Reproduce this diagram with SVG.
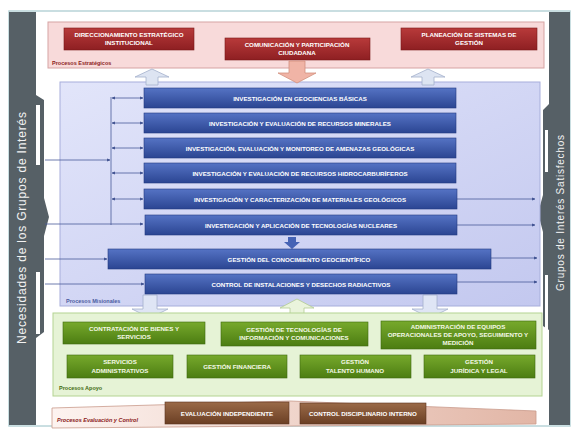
<svg xmlns="http://www.w3.org/2000/svg" width="577" height="432" viewBox="0 0 577 432">
<defs>
<linearGradient id="gRed" x1="0" y1="0" x2="0" y2="1"><stop offset="0" stop-color="#b83a3a"/><stop offset="1" stop-color="#8e1f22"/></linearGradient>
<linearGradient id="gBlue" x1="0" y1="0" x2="0" y2="1"><stop offset="0" stop-color="#5573c4"/><stop offset="1" stop-color="#2b4592"/></linearGradient>
<linearGradient id="gGreen" x1="0" y1="0" x2="0" y2="1"><stop offset="0" stop-color="#77a92c"/><stop offset="1" stop-color="#4c7d12"/></linearGradient>
<linearGradient id="gBrown" x1="0" y1="0" x2="0" y2="1"><stop offset="0" stop-color="#9a6a48"/><stop offset="1" stop-color="#6b3f24"/></linearGradient>
<linearGradient id="gMis" x1="0" y1="0" x2="1" y2="1"><stop offset="0" stop-color="#e2e5fa"/><stop offset="1" stop-color="#c3c8ef"/></linearGradient>
<linearGradient id="gEval" x1="0" y1="0" x2="1" y2="0"><stop offset="0" stop-color="#fdf3f0"/><stop offset="1" stop-color="#e2b6a6"/></linearGradient>
<marker id="ah" viewBox="0 0 6 6" refX="5.5" refY="3" markerWidth="4" markerHeight="4" orient="auto-start-reverse"><path d="M0,0 L6,3 L0,6 z" fill="#3d4f8f"/></marker>
<style>
.red{fill:url(#gRed);stroke:#7a1a1a;stroke-width:0.6}
.blue{fill:url(#gBlue);stroke:#233a80;stroke-width:0.6}
.green{fill:url(#gGreen);stroke:#3f6a0e;stroke-width:0.6}
.brown{fill:url(#gBrown);stroke:#5a3420;stroke-width:0.6}
.t{font-family:"Liberation Sans",Arial,sans-serif;font-size:6.2px;font-weight:bold;fill:#ffffff;text-anchor:middle}
.tg{fill:#f4f9e6}
.lbl{font-family:"Liberation Sans",Arial,sans-serif;font-size:5.5px;font-weight:bold}
.side{font-family:"Liberation Sans",Arial,sans-serif;fill:#f2f2f2;text-anchor:middle}
.conn{stroke:#4a5a9a;stroke-width:0.8;fill:none}
</style>
</defs>
<rect x="0" y="0" width="577" height="432" fill="#ffffff"/>
<rect x="9" y="11" width="561" height="415" fill="#ffffff" stroke="#b8d4d8" stroke-width="1.5"/>

<g id="side-left">
<path d="M9,12 L36,12 L36,95 L44,100 L44,198 L49,217 L44,236 L44,332 L36,338 L36,425 L9,425 Z" fill="#566066"/>
<rect x="36" y="105" width="4" height="60" fill="#ffffff"/>
<rect x="36" y="272" width="4" height="62" fill="#ffffff"/>
<text class="side" font-size="12" transform="translate(26,228) rotate(-90)" textLength="232" lengthAdjust="spacing">Necesidades de los Grupos de Interés</text>
</g>
<g id="side-right">
<path d="M549,12 L570,12 L570,425 L549,425 L549,330 L543,326 L543,232 L538,213 L543,195 L543,110 L549,104 Z" fill="#566066"/>
<rect x="545" y="130" width="3" height="42" fill="#ffffff"/>
<rect x="545" y="275" width="3" height="55" fill="#ffffff"/>
<text class="side" font-size="10" transform="translate(564,213) rotate(-90)" textLength="156" lengthAdjust="spacing">Grupos  de  Interés  Satisfechos</text>
</g>

<g id="procesos-estrategicos">
<rect x="48" y="22" width="496" height="46" fill="#f8dada" stroke="#d6a3a3" stroke-width="1"/>
<text class="lbl" x="52" y="65" fill="#8b1a1a">Procesos Estratégicos</text>
</g>
<g id="direccionamiento"><rect class="red" x="64" y="28" width="130" height="22"/><text class="t" x="129" y="37">DIRECCIONAMIENTO ESTRATÉGICO</text><text class="t" x="129" y="45">INSTITUCIONAL</text></g>
<g id="comunicacion"><rect class="red" x="225" y="38" width="145" height="22"/><text class="t" x="297" y="47">COMUNICACIÓN Y PARTICIPACIÓN</text><text class="t" x="297" y="55">CIUDADANA</text></g>
<g id="planeacion"><rect class="red" x="401" y="28" width="136" height="22"/><text class="t" x="469" y="37">PLANEACIÓN  DE  SISTEMAS DE</text><text class="t" x="469" y="45">GESTIÓN</text></g>

<g id="procesos-misionales">
<rect x="60" y="82" width="480" height="224" fill="url(#gMis)" stroke="#a7aedb" stroke-width="1"/>
<text class="lbl" x="66" y="303" fill="#4a5aa0">Procesos Misionales</text>
</g>

<g id="flechas-bloque">
<path d="M146,85 L146,77 L135,77 L152,69 L169,77 L158,77 L158,85 Z" fill="#dde4f2" stroke="#a3b0cc" stroke-width="0.8"/>
<path d="M422,85 L422,77 L411,77 L428,69 L445,77 L434,77 L434,85 Z" fill="#dde4f2" stroke="#a3b0cc" stroke-width="0.8"/>
<path d="M289,61 L289,73 L278,73 L297,83 L316,73 L305,73 L305,61 Z" fill="#f0b4a6" stroke="#d2907e" stroke-width="0.8"/>
<path d="M143,295 L143,309 L132,309 L150,318 L168,309 L157,309 L157,295 Z" fill="#dfe5f5" stroke="#a3b0cc" stroke-width="0.8"/>
<path d="M423,295 L423,309 L412,309 L430,318 L448,309 L437,309 L437,295 Z" fill="#dfe5f5" stroke="#a3b0cc" stroke-width="0.8"/>
<path d="M290,318 L290,308 L280,308 L297,299 L314,308 L304,308 L304,318 Z" fill="#eaf4dc" stroke="#b3cc92" stroke-width="0.8"/>
<path d="M288,237 L296,237 L296,242 L300,242 L292,249 L284,242 L288,242 Z" fill="#4663b5"/>
</g>

<g id="conectores">
<line class="conn" x1="111" y1="97" x2="111" y2="225"/>
<line class="conn" x1="112" y1="98" x2="143" y2="98" marker-start="url(#ah)" marker-end="url(#ah)"/>
<line class="conn" x1="112" y1="123" x2="143" y2="123" marker-start="url(#ah)" marker-end="url(#ah)"/>
<line class="conn" x1="112" y1="148" x2="143" y2="148" marker-start="url(#ah)" marker-end="url(#ah)"/>
<line class="conn" x1="112" y1="173" x2="143" y2="173" marker-start="url(#ah)" marker-end="url(#ah)"/>
<line class="conn" x1="112" y1="199" x2="143" y2="199" marker-start="url(#ah)" marker-end="url(#ah)"/>
<line class="conn" x1="45" y1="160" x2="110" y2="160" marker-end="url(#ah)"/>
<line class="conn" x1="45" y1="224" x2="143" y2="224" marker-end="url(#ah)"/>
<line class="conn" x1="45" y1="259" x2="107" y2="259" marker-end="url(#ah)"/>
<line class="conn" x1="45" y1="284" x2="144" y2="284" marker-end="url(#ah)"/>
<line class="conn" x1="457" y1="199" x2="535" y2="199" marker-end="url(#ah)"/>
<line class="conn" x1="457" y1="225" x2="535" y2="225" marker-end="url(#ah)"/>
<line class="conn" x1="491" y1="258" x2="537" y2="258" marker-end="url(#ah)"/>
<line class="conn" x1="457" y1="282" x2="537" y2="282" marker-end="url(#ah)"/>
</g>

<g id="geociencias"><rect class="blue" x="144" y="88" width="312" height="20"/><text class="t" x="300" y="100.5">INVESTIGACIÓN EN GEOCIENCIAS BÁSICAS</text></g>
<g id="minerales"><rect class="blue" x="144" y="113" width="312" height="20"/><text class="t" x="300" y="125.5">INVESTIGACIÓN Y EVALUACIÓN DE RECURSOS MINERALES</text></g>
<g id="amenazas"><rect class="blue" x="144" y="138" width="312" height="20"/><text class="t" x="300" y="150.5">INVESTIGACIÓN, EVALUACIÓN Y MONITOREO DE AMENAZAS GEOLÓGICAS</text></g>
<g id="hidrocarburiferos"><rect class="blue" x="144" y="163" width="312" height="20"/><text class="t" x="300" y="175.5">INVESTIGACIÓN  Y EVALUACIÓN DE  RECURSOS HIDROCARBURÍFEROS</text></g>
<g id="materiales"><rect class="blue" x="144" y="189" width="313" height="20"/><text class="t" x="300" y="201.5">INVESTIGACIÓN Y CARACTERIZACIÓN DE MATERIALES GEOLÓGICOS</text></g>
<g id="nucleares"><rect class="blue" x="145" y="215" width="312" height="20"/><text class="t" x="301" y="227.5">INVESTIGACIÓN Y APLICACIÓN DE TECNOLOGÍAS NUCLEARES</text></g>
<g id="conocimiento"><rect class="blue" x="108" y="249" width="383" height="20"/><text class="t" x="299" y="261.5">GESTIÓN DEL  CONOCIMIENTO GEOCIENTÍFICO</text></g>
<g id="radiactivos"><rect class="blue" x="145" y="274" width="312" height="20"/><text class="t" x="301" y="286.5">CONTROL DE INSTALACIONES Y DESECHOS RADIACTIVOS</text></g>

<g id="procesos-apoyo">
<rect x="53" y="313" width="489" height="83" fill="#e6f3d6" stroke="#b4d392" stroke-width="1"/>
<text class="lbl" x="59" y="390" fill="#3f6a10">Procesos Apoyo</text>
</g>
<g id="contratacion"><rect class="green" x="63" y="322" width="142" height="22"/><text class="t tg" x="134" y="331">CONTRATACIÓN DE BIENES Y</text><text class="t tg" x="134" y="339">SERVICIOS</text></g>
<g id="tic"><rect class="green" x="221" y="322" width="147" height="24"/><text class="t tg" x="294" y="332">GESTIÓN DE TECNOLOGÍAS DE</text><text class="t tg" x="294" y="340">INFORMACIÓN Y COMUNICACIONES</text></g>
<g id="equipos"><rect class="green" x="381" y="321" width="155" height="28"/><text class="t tg" x="458" y="329">ADMINISTRACIÓN DE EQUIPOS</text><text class="t tg" x="458" y="337">OPERACIONALES DE  APOYO, SEGUIMIENTO Y</text><text class="t tg" x="458" y="345">MEDICIÓN</text></g>
<g id="servicios"><rect class="green" x="67" y="355" width="106" height="23"/><text class="t tg" x="120" y="364">SERVICIOS</text><text class="t tg" x="120" y="373">ADMINISTRATIVOS</text></g>
<g id="financiera"><rect class="green" x="187" y="355" width="100" height="23"/><text class="t tg" x="237" y="369">GESTIÓN FINANCIERA</text></g>
<g id="talento"><rect class="green" x="300" y="355" width="111" height="23"/><text class="t tg" x="355" y="364">GESTIÓN</text><text class="t tg" x="355" y="373">TALENTO HUMANO</text></g>
<g id="juridica"><rect class="green" x="424" y="355" width="111" height="23"/><text class="t tg" x="479" y="364">GESTIÓN</text><text class="t tg" x="479" y="373">JURÍDICA Y LEGAL</text></g>

<g id="procesos-evaluacion">
<path d="M52,408 L290,401 L536,411 L536,424 L52,428 Z" fill="url(#gEval)" stroke="#c99a8c" stroke-width="0.8"/>
<text class="lbl" x="57" y="422" fill="#8b1a1a" font-style="italic">Procesos Evaluación y Control</text>
</g>
<g id="evaluacion"><rect class="brown" x="165" y="402" width="124" height="22"/><text class="t" x="227" y="415.5" fill="#f6eadc">EVALUACIÓN INDEPENDIENTE</text></g>
<g id="disciplinario"><rect class="brown" x="300" y="403" width="126" height="21"/><text class="t" x="363" y="416" fill="#f6eadc">CONTROL DISCIPLINARIO INTERNO</text></g>
</svg>
